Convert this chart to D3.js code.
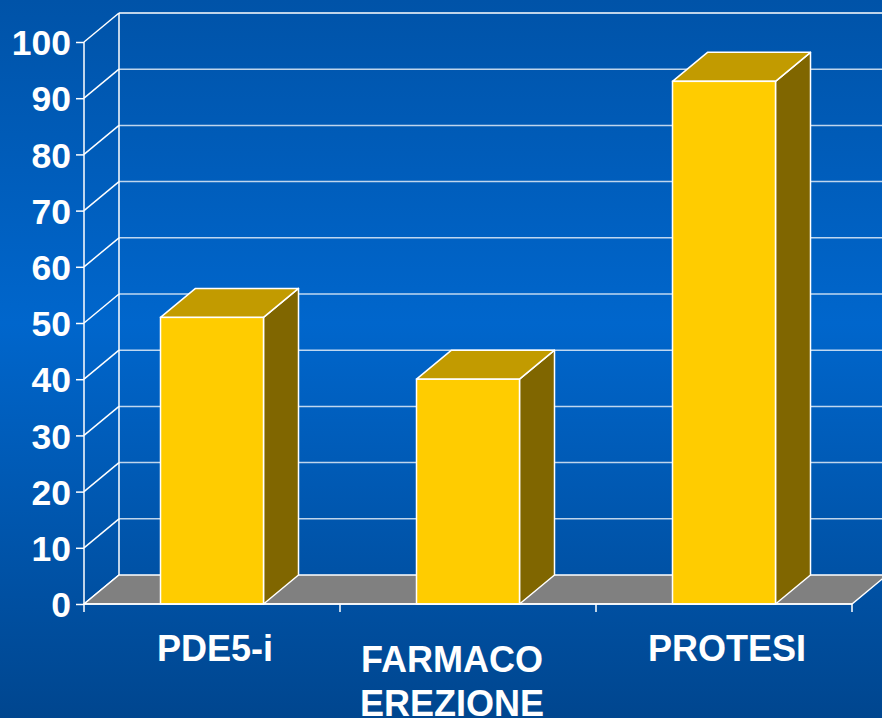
<!DOCTYPE html>
<html>
<head>
    <meta charset='utf-8'>
    <title>grafico 3D</title>
    <script src='https://cdn.jsdelivr.net/npm/d3@7'></script>
    <style>
        body { margin: 0; overflow: hidden; }
        text { font-family: 'Liberation Sans', Arial, sans-serif; font-weight: bold; fill: #fff; }
    </style>
</head>
<body>
    <svg width='882' height='718'></svg>
    <script>
        // dati
        const categories = ['PDE5-i', 'FARMACO EREZIONE', 'PROTESI']
        const values = [51, 40, 93]
        const yTicks = [0, 10, 20, 30, 40, 50, 60, 70, 80, 90, 100]

        const svg = d3.select('svg')
        const W = 882, H = 718
        const depth = { dx: 35, dy: -29 }   // spostamento prospettico verso il fondo
        const barWidth = 103

        // sfondo sfumato
        const defs = svg.append('defs')
        const grad = defs.append('linearGradient').attr('id', 'bg').attr('x1', 0).attr('y1', 0).attr('x2', 0).attr('y2', 1)
        grad.append('stop').attr('offset', '0%').attr('stop-color', '#0053a8')
        grad.append('stop').attr('offset', '45%').attr('stop-color', '#0066cc')
        grad.append('stop').attr('offset', '100%').attr('stop-color', '#00468f')
        svg.append('rect').attr('width', W).attr('height', H).attr('fill', 'url(#bg)')

        const x = d3.scaleBand(categories, [84, 852])
        const y = d3.scaleLinear([0, 100], [604, 42])

        const g = svg.append('g')
        const y0 = y(0)
        const xL = x.range()[0], xR = x.range()[1]

        // griglia parete di fondo
        g.selectAll('.grid').data(yTicks.filter(d => d > 0)).enter().append('line')
            .attr('x1', xL + depth.dx).attr('x2', xR + depth.dx)
            .attr('y1', d => y(d) + depth.dy).attr('y2', d => y(d) + depth.dy)
            .attr('stroke', d => d === 100 ? '#fff' : 'rgba(255,255,255,0.75)').attr('stroke-width', 1.5)

        // parete laterale: diagonali
        g.selectAll('.diag').data(yTicks).enter().append('line')
            .attr('x1', xL).attr('y1', d => y(d))
            .attr('x2', xL + depth.dx).attr('y2', d => y(d) + depth.dy)
            .attr('stroke', '#fff').attr('stroke-width', 1.5)
        g.append('line').attr('x1', xL + depth.dx).attr('x2', xL + depth.dx)
            .attr('y1', y0 + depth.dy).attr('y2', y(100) + depth.dy)
            .attr('stroke', '#fff').attr('stroke-width', 1.5)

        // pavimento
        g.append('path')
            .attr('d', `M${xL},${y0}L${xR},${y0}L${xR + depth.dx},${y0 + depth.dy}L${xL + depth.dx},${y0 + depth.dy}Z`)
            .attr('fill', '#808080').attr('stroke', '#fff').attr('stroke-width', 1.5)

        // barre 3D
        const bars = g.selectAll('.bar').data(values).enter().append('g')
        const bx = (d, i) => x(categories[i]) + (x.bandwidth() - barWidth) / 2
        bars.append('path') // lato
            .attr('d', (d, i) => {
                const a = bx(d, i) + barWidth, t = y(d)
                return `M${a},${t}L${a + depth.dx},${t + depth.dy}L${a + depth.dx},${y0 + depth.dy}L${a},${y0}Z`
            })
            .attr('fill', '#806600').attr('stroke', '#fff').attr('stroke-width', 1.5).attr('stroke-linejoin', 'round')
        bars.append('path') // tetto
            .attr('d', (d, i) => {
                const a = bx(d, i), b = a + barWidth, t = y(d)
                return `M${a},${t}L${a + depth.dx},${t + depth.dy}L${b + depth.dx},${t + depth.dy}L${b},${t}Z`
            })
            .attr('fill', '#c29b00').attr('stroke', '#fff').attr('stroke-width', 1.5).attr('stroke-linejoin', 'round')
        bars.append('rect') // fronte
            .attr('x', bx).attr('y', d => y(d))
            .attr('width', barWidth).attr('height', d => y0 - y(d))
            .attr('fill', '#ffcc00').attr('stroke', '#fff').attr('stroke-width', 1.5)

        // asse Y
        const yAxis = d3.axisLeft(y).tickValues(yTicks).tickSize(8).tickPadding(5)
        const gy = svg.append('g').attr('transform', `translate(${xL},0)`).call(yAxis)
        gy.select('.domain').attr('stroke', '#fff').attr('stroke-width', 1.5).attr('d', `M-0,${y0}V${y(100)}`)
        gy.selectAll('.tick line').attr('stroke', '#fff').attr('stroke-width', 1.5)
        gy.selectAll('.tick text').attr('fill', '#fff').style('font-size', '35.5px').attr('dy', '0.36em')
            .style('font-family', "'Liberation Sans', Arial, sans-serif").style('font-weight', 'bold')

        // asse X
        const gx = svg.append('g')
        gx.append('line').attr('x1', xL).attr('x2', xR).attr('y1', y0).attr('y2', y0)
            .attr('stroke', '#fff').attr('stroke-width', 1.5)
        const edges = categories.map(c => x(c)).concat([xR])
        gx.selectAll('.xt').data(edges).enter().append('line')
            .attr('x1', d => d).attr('x2', d => d).attr('y1', y0).attr('y2', y0 + 8)
            .attr('stroke', '#fff').attr('stroke-width', 1.5)

        // etichette categorie
        const labelDx = [3, -16, 3]
        const labelY = [661, 672, 661]
        categories.forEach((c, i) => {
            const words = c.split(' ')
            const t = svg.append('text').attr('text-anchor', 'middle').style('font-size', '36px')
                .attr('x', x(c) + x.bandwidth() / 2 + labelDx[i]).attr('y', labelY[i])
            words.forEach((w, k) => {
                t.append('tspan').attr('x', x(c) + x.bandwidth() / 2 + labelDx[i]).attr('dy', k === 0 ? 0 : 44).text(w)
            })
        })
    </script>
</body>
</html>
